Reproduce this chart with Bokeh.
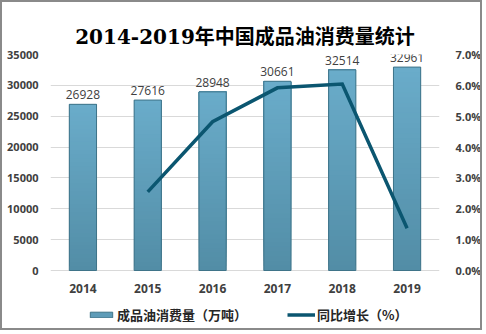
from bokeh.plotting import figure
from bokeh.models import (ColumnDataSource, FactorRange, Range1d, LinearAxis, FixedTicker,
                          NumeralTickFormatter, LabelSet, Legend, LegendItem)
from bokeh.core.properties import value
from bokeh.embed import file_html
from bokeh.resources import INLINE

years = ["2014", "2015", "2016", "2017", "2018", "2019"]
consumption = [26928, 27616, 28948, 30661, 32514, 32961]  # 万吨
growth_years = ["2015", "2016", "2017", "2018", "2019"]
growth = [0.0255, 0.0482, 0.0592, 0.0604, 0.0137]  # 同比增长

left_ticks = [0, 5000, 10000, 15000, 20000, 25000, 30000, 35000]
right_ticks = [0.0, 0.01, 0.02, 0.03, 0.04, 0.05, 0.06, 0.07]

BAR_TOP = (0x6a, 0xac, 0xca)
BAR_BOTTOM = (0x52, 0x8d, 0xa6)
LINE_COLOR = "#0b5670"
TEXT = "#404040"

# layout: frame extends below the zero line to hold year labels and legend
W, H = 482, 330
TOP, BOTTOM = 52, 2
ZERO_PX = 268            # canvas y of value 0
plot_h = H - TOP - BOTTOM
above0 = ZERO_PX - TOP
below0 = plot_h - above0
ymax, pmax = 35000, 0.07
ymin = -ymax * below0 / above0
pmin = -pmax * below0 / above0

p = figure(width=W, height=H, x_range=FactorRange(*years), y_range=Range1d(ymin, ymax),
           output_backend="svg", toolbar_location=None,
           min_border_left=48, min_border_right=43, min_border_top=TOP, min_border_bottom=BOTTOM)
p.styles = {"border": "2px solid #8a8a8a"}
p.outline_line_color = None
p.background_fill_color = "white"
p.border_fill_color = "white"

p.title.text = "2014-2019年中国成品油消费量统计"
p.title.align = "center"
p.title.vertical_align = "middle"
p.title.text_font = "DejaVu Serif, Noto Sans CJK SC, serif"
p.title.text_font_size = "20px"
p.title.text_font_style = "bold"
p.title.text_color = "#000000"

p.extra_y_ranges = {"pct": Range1d(pmin, pmax)}

# gradient bars built from the values (each slice runs to the bar top, painted bottom-up)
N = 40
gx, gb, gt, gc = [], [], [], []
for yr, v in zip(years, consumption):
    for i in range(N):
        f = (i + 0.5) / N
        c = tuple(int(round(BAR_BOTTOM[k] + (BAR_TOP[k] - BAR_BOTTOM[k]) * f)) for k in range(3))
        gx.append(yr)
        gb.append(v * i / N)
        gt.append(v)
        gc.append("#%02x%02x%02x" % c)
p.vbar(x=gx, bottom=gb, top=gt, width=0.42, fill_color=gc, line_color=None)

src = ColumnDataSource(dict(x=years, y=consumption, z=[0] * len(years),
                            t=[str(v) for v in consumption]))
bars = p.vbar(x="x", top="y", width=0.42, source=src, fill_color=None,
              line_color="#3f7489", line_width=1)
legend_bar = p.vbar(x=[years[0]], top=[0], width=0.0, fill_color="#5e9cb8",
                    line_color="#3f7489")

labels = LabelSet(x="x", y="y", text="t", source=src, text_align="center",
                  text_baseline="bottom", y_offset=5, text_font=value("Open Sans"),
                  text_font_size="12px", text_color=TEXT)
p.add_layout(labels)

year_labels = LabelSet(x="x", y="z", text="x", source=src, text_align="center",
                       text_baseline="middle", y_offset=-18, text_font=value("Open Sans"),
                       text_font_style="bold", text_font_size="12px", text_color=TEXT)
p.add_layout(year_labels)

ln = p.line(x=growth_years, y=growth, y_range_name="pct", line_color=LINE_COLOR,
            line_width=3.5, line_join="miter")

# axes
p.yaxis.ticker = FixedTicker(ticks=left_ticks)
p.yaxis.axis_line_color = None
p.yaxis.major_tick_line_color = None
p.yaxis.minor_tick_line_color = None
p.yaxis.major_label_text_font = "Open Sans"
p.yaxis.major_label_text_font_style = "bold"
p.yaxis.major_label_text_font_size = "11px"
p.yaxis.major_label_text_color = TEXT
p.yaxis.major_label_standoff = 6

ra = LinearAxis(y_range_name="pct", ticker=FixedTicker(ticks=right_ticks),
                formatter=NumeralTickFormatter(format="0.0%"))
ra.axis_line_color = None
ra.major_tick_line_color = None
ra.minor_tick_line_color = None
ra.major_label_text_font = "Open Sans"
ra.major_label_text_font_style = "bold"
ra.major_label_text_font_size = "11px"
ra.major_label_text_color = TEXT
ra.major_label_standoff = 10
p.add_layout(ra, "right")

p.xaxis.visible = False
p.xgrid.grid_line_color = None
p.ygrid.ticker = FixedTicker(ticks=left_ticks)
p.ygrid.grid_line_color = "#d9d9d9"

legend = Legend(items=[LegendItem(label="成品油消费量（万吨）", renderers=[legend_bar]),
                       LegendItem(label="同比增长（%）", renderers=[ln])],
                orientation="horizontal", location=(37, 6))
legend.border_line_color = None
legend.background_fill_alpha = 0
legend.label_text_font = "Noto Sans CJK SC"
legend.label_text_font_style = "bold"
legend.label_text_font_size = "13px"
legend.label_text_color = "#262626"
legend.glyph_width = 28
legend.glyph_height = 7
legend.label_height = 16
legend.label_standoff = 2
legend.spacing = 40
legend.padding = 4
legend.margin = 0
p.add_layout(legend)

open("out.html", "w").write(file_html(p, INLINE))
